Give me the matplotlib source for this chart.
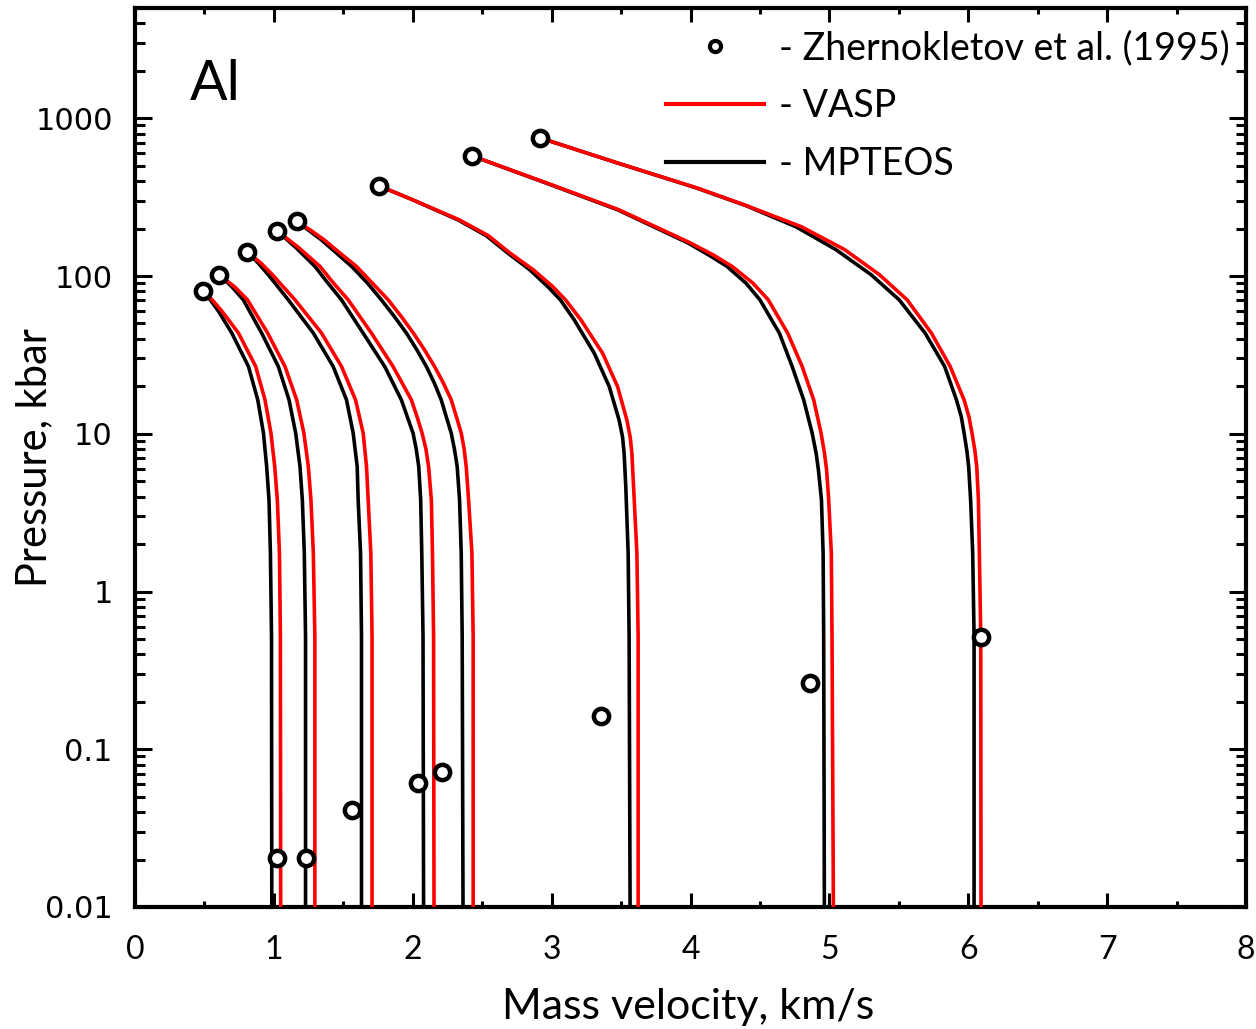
import matplotlib
matplotlib.use("Agg")
import matplotlib.pyplot as plt
from matplotlib.lines import Line2D
from matplotlib.ticker import FixedLocator, LogLocator, NullFormatter, MultipleLocator

# release isentropes of Al (u in km/s, P in kbar)
p_curves = [
    [80.5, 70, 60, 43.5, 26.7, 16.4, 10.1, 6.2, 3.8, 1.76, 0.52, 0.01],
    [101.4, 85, 70.6, 43.5, 26.7, 16.4, 10.1, 6.2, 3.8, 1.76, 0.52, 0.01],
    [141.9, 120, 101.8, 70.6, 43.5, 26.7, 16.4, 10.1, 6.2, 3.8, 1.76, 0.52, 0.01],
    [192.8, 151, 115, 90, 70.6, 43.4, 26.7, 16.4, 12.5, 10.1, 8, 6.2, 3.81, 1.76, 0.52, 0.01],
    [221.8, 195, 170, 140, 115, 90, 70.6, 55, 43.4, 34, 26.7, 21, 16.4, 12.5, 10.1, 8, 6.2, 3.81, 1.76, 0.52, 0.01],
    [373, 304, 227, 180, 139.6, 110, 85.7, 70.6, 52.7, 32.4, 19.9, 12.2, 9.5, 7.5, 4.63, 1.75, 0.517, 0.01],
    [578, 378, 263, 162, 135, 115, 90, 70.6, 43.4, 26.7, 16.4, 10.1, 7.5, 5.9, 3.81, 1.75, 0.52, 0.01],
    [751, 520, 362, 279, 205, 147, 102, 70.6, 43.4, 26.7, 16.4, 12.8, 10.1, 7.8, 6.2, 3.81, 1.75, 0.52, 0.01],
]
u_mpteos = [
    [0.489, 0.545, 0.60, 0.697, 0.817, 0.884, 0.925, 0.948, 0.965, 0.975, 0.983, 0.985],
    [0.608, 0.70, 0.78, 0.912, 1.032, 1.109, 1.157, 1.188, 1.205, 1.219, 1.228, 1.228],
    [0.810, 0.89, 0.96, 1.104, 1.284, 1.427, 1.523, 1.571, 1.600, 1.607, 1.624, 1.631, 1.631],
    [1.025, 1.16, 1.296, 1.39, 1.487, 1.643, 1.798, 1.918, 1.965, 2.002, 2.025, 2.043, 2.057, 2.065, 2.074, 2.078],
    [1.169, 1.25, 1.34, 1.45, 1.56, 1.675, 1.774, 1.87, 1.955, 2.03, 2.098, 2.155, 2.205, 2.245, 2.277,
     2.300, 2.320, 2.337, 2.349, 2.356, 2.362],
    [1.756, 2.00, 2.325, 2.53, 2.685, 2.84, 2.972, 3.063, 3.163, 3.307, 3.415, 3.486, 3.511, 3.522, 3.534,
     3.551, 3.558, 3.565],
    [2.426, 2.996, 3.475, 3.982, 4.137, 4.263, 4.40, 4.50, 4.64, 4.732, 4.815, 4.876, 4.905, 4.921, 4.943,
     4.955, 4.959, 4.964],
    [2.916, 3.475, 4.041, 4.401, 4.760, 5.047, 5.30, 5.503, 5.69, 5.83, 5.915, 5.950, 5.970, 5.990, 6.003,
     6.017, 6.032, 6.042, 6.042],
]
u_vasp = [
    [0.489, 0.56, 0.625, 0.745, 0.869, 0.936, 0.979, 1.006, 1.025, 1.040, 1.047, 1.049],
    [0.608, 0.72, 0.81, 0.955, 1.080, 1.164, 1.216, 1.248, 1.267, 1.284, 1.295, 1.295],
    [0.810, 0.91, 0.99, 1.152, 1.343, 1.487, 1.588, 1.643, 1.667, 1.679, 1.698, 1.707, 1.707],
    [1.025, 1.18, 1.332, 1.43, 1.535, 1.703, 1.858, 1.990, 2.035, 2.067, 2.095, 2.114, 2.134, 2.142, 2.150, 2.153],
    [1.169, 1.265, 1.36, 1.475, 1.595, 1.71, 1.823, 1.92, 2.005, 2.085, 2.157, 2.22, 2.277, 2.318, 2.349,
     2.370, 2.385, 2.402, 2.426, 2.435, 2.435],
    [1.756, 2.00, 2.335, 2.545, 2.701, 2.865, 3.008, 3.10, 3.211, 3.367, 3.475, 3.542, 3.566, 3.578, 3.590,
     3.614, 3.623, 3.623],
    [2.426, 3.003, 3.484, 4.00, 4.17, 4.30, 4.45, 4.56, 4.70, 4.804, 4.887, 4.940, 4.965, 4.980, 4.995,
     5.014, 5.019, 5.029],
    [2.916, 3.477, 4.045, 4.405, 4.800, 5.110, 5.36, 5.56, 5.735, 5.87, 5.970, 6.005, 6.027, 6.048, 6.061,
     6.073, 6.080, 6.090, 6.092],
]

# Zhernokletov et al. (1995)
exp_u = [0.489, 0.608, 0.810, 1.025, 1.169, 1.756, 2.426, 2.916,
         1.02, 1.228, 1.566, 2.038, 2.213, 3.355, 4.858, 6.09]
exp_p = [80.5, 101.4, 141.9, 192.8, 221.8, 373, 578, 751,
         0.0204, 0.0204, 0.0412, 0.0613, 0.0721, 0.163, 0.262, 0.515]

y_ticks = [0.01, 0.1, 1, 10, 100, 1000]
y_tick_labels = ["0.01", "0.1", "1", "10", "100", "1000"]

plt.rcParams["font.family"] = ["Lato", "DejaVu Sans"]

fig = plt.figure(figsize=(12.56, 10.29), dpi=100)
ax = fig.add_axes([135 / 1256, 1 - 907 / 1029, 1111 / 1256, 899 / 1029])

for p, ub, ur in zip(p_curves, u_mpteos, u_vasp):
    ax.plot(ub, p, color="black", lw=2.6, solid_joinstyle="round", zorder=2)
    ax.plot(ur, p, color="red", lw=2.6, solid_joinstyle="round", zorder=3)

ax.plot(exp_u, exp_p, "o", ms=11, mfc="white", mec="black", mew=3.2, zorder=5, clip_on=False)

ax.set_yscale("log")
ax.set_xlim(0, 8)
ax.set_ylim(0.01, 5000)

ax.xaxis.set_major_locator(MultipleLocator(1))
ax.xaxis.set_minor_locator(MultipleLocator(0.5))
ax.yaxis.set_major_locator(FixedLocator(y_ticks))
ax.set_yticklabels(y_tick_labels, family=["DejaVu Sans"])
ax.yaxis.set_minor_locator(LogLocator(base=10, subs=range(2, 10)))
ax.yaxis.set_minor_formatter(NullFormatter())

for s in ax.spines.values():
    s.set_linewidth(3)

ax.tick_params(axis="x", which="major", direction="in", length=10, width=2.2,
               labelsize=23, pad=20, top=True)
ax.tick_params(axis="x", which="minor", direction="in", length=4.5, width=2.2, top=True)
ax.tick_params(axis="y", which="major", direction="in", length=12, width=2.2,
               labelsize=22, pad=16, right=True)
ax.tick_params(axis="y", which="minor", direction="in", length=7, width=2.2, right=True)

ax.set_xlabel("Mass velocity, km/s", fontsize=31)
ax.xaxis.set_label_coords(0.498, -0.090)
ax.set_ylabel("Pressure, kbar", fontsize=30)
ax.yaxis.set_label_coords(-0.074, 0.5)

ax.text(0.049, 0.898, "Al", transform=ax.transAxes, fontsize=40, va="baseline", ha="left")

handles = [
    Line2D([], [], ls="none", marker="o", ms=8, mfc="white", mec="black", mew=3),
    Line2D([], [], color="red", lw=3),
    Line2D([], [], color="black", lw=3),
]
labels = ["- Zhernokletov et al. (1995)", "- VASP", "- MPTEOS"]
ax.legend(handles, labels, loc="upper right", bbox_to_anchor=(1.002, 0.996), frameon=False,
          fontsize=27, handlelength=2.6, handletextpad=0.4, labelspacing=0.58,
          borderaxespad=0.3, borderpad=0.2)

fig.savefig("out.png", dpi=100)
